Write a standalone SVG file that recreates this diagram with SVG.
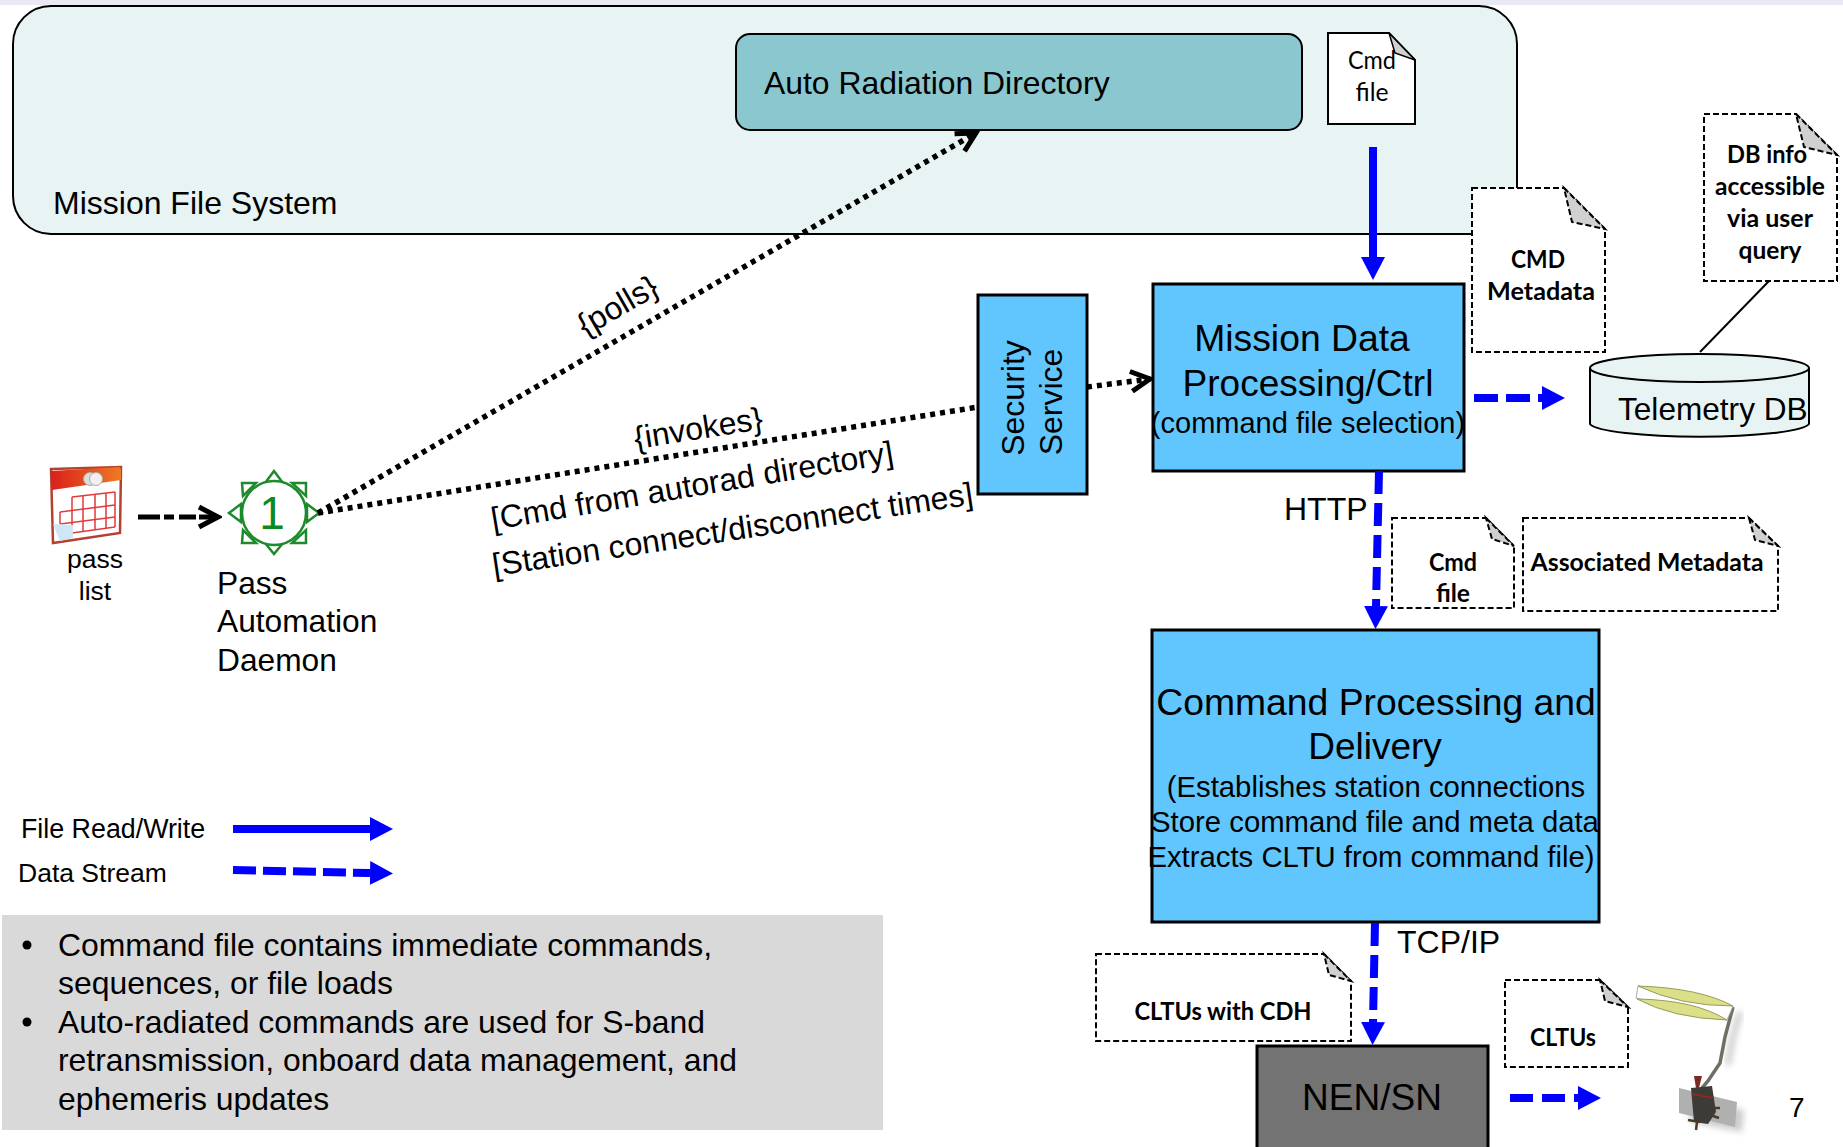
<svg xmlns="http://www.w3.org/2000/svg" width="1843" height="1147" viewBox="0 0 1843 1147">
<style>
text{font-family:"Liberation Sans",Arial,sans-serif;fill:#000}
.c{text-anchor:middle}
.n{font-family:Lato,"Carlito","Open Sans",sans-serif;font-weight:700;font-size:24px;text-anchor:middle}
.box{fill:#62c6fe;stroke:#000;stroke-width:3}
.doc{fill:#fff;stroke:#000;stroke-width:2;stroke-dasharray:6 3}
.docs{fill:#fff;stroke:#000;stroke-width:2}
.fold{fill:#d0d0d0;stroke:#000;stroke-width:2;stroke-dasharray:6 3}
.folds{fill:#d0d0d0;stroke:#000;stroke-width:1.5}
.bs{stroke:#0000ff;stroke-width:8;fill:none;marker-end:url(#bh)}
.bd{stroke:#0000ff;stroke-width:8;fill:none;stroke-dasharray:23 9;marker-end:url(#bh)}
.dot{stroke:#000;stroke-width:5.5;fill:none;stroke-dasharray:5 5}
.arr{marker-end:url(#ch)}
.sun{fill:#fff;stroke:#1d8a2c;stroke-width:2.5}
</style>
<defs>
<marker id="bh" markerUnits="userSpaceOnUse" markerWidth="24" markerHeight="26" refX="0" refY="13" orient="auto"><path d="M0,1 L23,13 L0,25 z" fill="#0000ff"/></marker>
<marker id="ch" markerUnits="userSpaceOnUse" markerWidth="26" markerHeight="30" refX="22" refY="15" orient="auto"><path d="M3,5 L22,15 L3,25" fill="none" stroke="#000" stroke-width="5"/></marker>
<linearGradient id="cal" x1="0" x2="1"><stop offset="0" stop-color="#d9201a"/><stop offset="1" stop-color="#ee7a22"/></linearGradient>
<filter id="soft" x="-20%" y="-20%" width="140%" height="140%"><feGaussianBlur stdDeviation="0.6"/></filter>
<filter id="shadow" x="-30%" y="-30%" width="160%" height="160%"><feGaussianBlur stdDeviation="3"/></filter>
</defs>
<rect x="0" y="0" width="1843" height="5" fill="#e9e9f3"/>

<g id="mission-file-system">
<rect x="13" y="6" width="1504" height="228" rx="38" fill="#e8f4f4" stroke="#000" stroke-width="2"/>
<text x="53" y="214" font-size="32">Mission File System</text>
</g>
<g id="auto-radiation-directory">
<rect x="736" y="34" width="566" height="96" rx="14" fill="#8bc7cf" stroke="#000" stroke-width="2"/>
<text x="764" y="94" font-size="31.900">Auto Radiation Directory</text>
</g>
<g id="cmd-file-top">
<path class="docs" d="M1328,33 H1389 L1415,60 V124 H1328 z"/>
<path class="folds" d="M1389,33 L1415,60 L1395,53 z"/>
<text x="1372" y="69" class="c" font-size="25" style="font-family:Lato,Carlito,sans-serif" textLength="48" lengthAdjust="spacingAndGlyphs">Cmd</text>
<text x="1372" y="101" class="c" font-size="25" style="font-family:Lato,Carlito,sans-serif" textLength="33" lengthAdjust="spacingAndGlyphs">file</text>
</g>
<g id="cmd-metadata">
<path class="doc" d="M1472,188 H1564 L1605,229 V352 H1472 z"/>
<path class="fold" d="M1564,188 L1605,229 L1572,222 z"/>
<text x="1538" y="268" class="n" textLength="54" lengthAdjust="spacingAndGlyphs">CMD</text>
<text x="1541" y="300" class="n" textLength="108" lengthAdjust="spacingAndGlyphs">Metadata</text>
</g>
<g id="db-info">
<path class="doc" d="M1704,114 H1796 L1837,155 V281 H1704 z"/>
<path class="fold" d="M1796,114 L1837,155 L1804,147 z"/>
<text x="1767" y="163" class="n" textLength="80" lengthAdjust="spacingAndGlyphs">DB info</text>
<text x="1770" y="195" class="n" textLength="110" lengthAdjust="spacingAndGlyphs">accessible</text>
<text x="1770" y="227" class="n" textLength="86" lengthAdjust="spacingAndGlyphs">via user</text>
<text x="1770" y="259" class="n" textLength="63" lengthAdjust="spacingAndGlyphs">query</text>
</g>
<g id="telemetry-db">
<path d="M1590,368 V424 A110,14 0 0 0 1809,424 V368" fill="#e8f4f4" stroke="#000" stroke-width="2"/>
<ellipse cx="1699.500" cy="368" rx="109.500" ry="14" fill="#e8f4f4" stroke="#000" stroke-width="2"/>
<text x="1618" y="420" font-size="31.600">Telemetry DB</text>
</g>
<g id="security-service">
<rect class="box" x="978" y="295" width="109" height="199"/>
<text class="c" font-size="32" transform="translate(1024,398) rotate(-90)">Security</text>
<text class="c" font-size="32" transform="translate(1062,402) rotate(-90)">Service</text>
</g>
<g id="mission-data">
<rect class="box" x="1153" y="284" width="311" height="187"/>
<text x="1302" y="351" class="c" font-size="37.300">Mission Data</text>
<text x="1308" y="396" class="c" font-size="37">Processing/Ctrl</text>
<text x="1308" y="433" class="c" font-size="29">(command file selection)</text>
</g>
<g id="cmd-file-mid">
<path class="doc" d="M1392,518 H1486 L1514,546 V608 H1392 z"/>
<path class="fold" d="M1486,518 L1514,546 L1492,539 z"/>
<text x="1453" y="571" class="n" textLength="48" lengthAdjust="spacingAndGlyphs">Cmd</text>
<text x="1453" y="602" class="n" textLength="34" lengthAdjust="spacingAndGlyphs">file</text>
</g>
<g id="associated-metadata">
<path class="doc" d="M1523,518 H1749 L1778,546 V611 H1523 z"/>
<path class="fold" d="M1749,518 L1778,546 L1755,540 z"/>
<text x="1647" y="571" class="n" textLength="233" lengthAdjust="spacingAndGlyphs">Associated Metadata</text>
</g>
<g id="command-processing">
<rect class="box" x="1152" y="630" width="447" height="292"/>
<text x="1376" y="715" class="c" font-size="37.300">Command Processing and</text>
<text x="1375" y="759" class="c" font-size="37">Delivery</text>
<text x="1376" y="797" class="c" font-size="29.300">(Establishes station connections</text>
<text x="1375" y="832" class="c" font-size="29.300">Store command file and meta data</text>
<text x="1371" y="867" class="c" font-size="29.300">Extracts CLTU from command file)</text>
</g>
<g id="cltus-with-cdh">
<path class="doc" d="M1096,954 H1324 L1351,981 V1041 H1096 z"/>
<path class="fold" d="M1324,954 L1351,981 L1329,975 z"/>
<text x="1223" y="1020" class="n" textLength="177" lengthAdjust="spacingAndGlyphs">CLTUs with CDH</text>
</g>
<g id="nen-sn">
<rect x="1257" y="1046" width="231" height="110" fill="#737373" stroke="#000" stroke-width="3"/>
<text x="1372" y="1110" class="c" font-size="37">NEN/SN</text>
</g>
<g id="cltus">
<path class="doc" d="M1505,980 H1600 L1628,1007 V1067 H1505 z"/>
<path class="fold" d="M1600,980 L1628,1007 L1605,1001 z"/>
<text x="1563" y="1046" class="n" textLength="66" lengthAdjust="spacingAndGlyphs">CLTUs</text>
</g>
<g id="satellite">
<path d="M1690,1100 L1744,1110 L1742,1132 L1690,1122 z" fill="#999" opacity="0.5" filter="url(#shadow)"/>
<path d="M1740,1012 L1732,1040 L1728,1065" fill="none" stroke="#999" stroke-width="6" opacity="0.5" filter="url(#shadow)"/>
<g filter="url(#soft)">
<path d="M1679,1088 L1737,1102 L1735,1127 L1679,1113 z" fill="#b0b0b0"/>
<path d="M1733,1007 L1725,1037 L1720,1063 L1708,1081 L1702,1088" fill="none" stroke="#6f6f62" stroke-width="3.500"/>
<path d="M1638,986 L1636,998 L1727,1020 L1733,1006 z" fill="#fff" stroke="#aaa"/>
<path d="M1638,986 Q1700,988 1733,1006 Q1680,1006 1638,986 z" fill="#dadf88" stroke="#9a9a60"/>
<path d="M1637,999 Q1695,1000 1727,1020 Q1672,1018 1637,999 z" fill="#dadf88" stroke="#9a9a60"/>
<path d="M1691,1088 L1712,1086 L1716,1112 L1708,1124 L1694,1122 z" fill="#3c3a36"/>
<path d="M1694,1076 L1702,1076 L1699,1088 L1696,1088 z" fill="#7a2a20"/>
<path d="M1692,1094 L1714,1098" stroke="#8a2a22" stroke-width="2" fill="none"/>
<path d="M1688,1120 L1700,1122 M1697,1122 L1696,1130 M1714,1108 L1720,1108 M1713,1116 L1719,1118" stroke="#4a3a28" stroke-width="2.500" fill="none"/>
</g>
</g>
<g id="calendar">
<path d="M51,469 L121,467 L120,533 L53,543 z" fill="#fff" stroke="#b5402f" stroke-width="2.500" filter="url(#soft)"/>
<path d="M51,471 L119,467 L121,469 L121,480 L52,490 z" fill="url(#cal)" filter="url(#soft)"/>
<circle cx="90" cy="479" r="6.500" fill="#ddd" stroke="#aaa"/><circle cx="96" cy="479" r="6.500" fill="#f0f0f0" stroke="#aaa"/>
<g fill="none" stroke="#e23a3e" stroke-width="1.500" filter="url(#soft)">
<path d="M72,497 L115,492 M60,512 L115,505 M60,524 L115,517 M72,533 L115,527"/>
<path d="M60,512 V524 M72,497 V533 M83,496 V532 M95,495 V530 M106,493 V528 M115,492 V527"/>
</g>
<path d="M53,524 L73,525 L73,538 L60,541 z" fill="#cfe6f5" filter="url(#soft)"/>
<text x="95" y="568" class="c" font-size="26.500">pass</text>
<text x="95" y="600" class="c" font-size="26.500">list</text>
</g>
<g id="pass-automation-daemon">
<g class="sun">
<path d="M274,471 L265,483 H283 z"/><path d="M274,554 L265,543 H283 z"/>
<path d="M229,513 L241,504 V522 z"/><path d="M319,513 L307,504 V522 z"/>
<path d="M242,483 H256 L243,496 z"/><path d="M306,483 H292 L306,496 z"/>
<path d="M242,543 H256 L243,530 z"/><path d="M306,543 H292 L306,530 z"/>
<circle cx="274" cy="513" r="32"/>
</g>
<text x="272" y="529" class="c" font-size="46" style="fill:#0b8a1f">1</text>
<text x="217" y="594" font-size="31.700">Pass</text>
<text x="217" y="632" font-size="31.700">Automation</text>
<text x="217" y="671" font-size="31.700">Daemon</text>
</g>

<g id="connectors">
<path d="M138,517 H218" stroke="#000" stroke-width="5" fill="none" stroke-dasharray="22 4 10 5 17 3" marker-end="url(#ch)"/>
<path class="dot arr" d="M318,513 L976,133"/>
<path class="dot" d="M318,513 L978,407"/>
<path class="dot arr" d="M1087,387 L1150,379"/>
<path class="bs" d="M1373,147 V257"/>
<path d="M1474,398 H1542" stroke="#0000ff" stroke-width="8" stroke-dasharray="24 8" fill="none" marker-end="url(#bh)"/>
<path class="bd" d="M1379,471 L1376,606"/>
<path class="bd" d="M1375,923 L1373,1022"/>
<path class="bd" d="M1510,1098 H1578"/>
<path d="M1769,281 L1700,352" stroke="#000" stroke-width="2" fill="none"/>
<path d="M233,829 H370" stroke="#0000ff" stroke-width="8" fill="none" marker-end="url(#bh)"/>
<path d="M233,870 L370,873" stroke="#0000ff" stroke-width="8" stroke-dasharray="23 7" fill="none" marker-end="url(#bh)"/>
</g>
<g id="connector-labels">
<text class="c" font-size="32" transform="translate(623,315) rotate(-30)">{polls}</text>
<text class="c" font-size="32" transform="translate(700,439) rotate(-9)">{invokes}</text>
<text font-size="32" transform="translate(493,530) rotate(-9.500)">[Cmd from autorad directory]</text>
<text font-size="32" transform="translate(494,576) rotate(-8.500)">[Station connect/disconnect times]</text>
<text x="1284" y="520" font-size="32">HTTP</text>
<text x="1397" y="953" font-size="32">TCP/IP</text>
</g>
<g id="legend">
<text x="21" y="838" font-size="26.800">File Read/Write</text>
<text x="18" y="882" font-size="26.500">Data Stream</text>
</g>
<g id="notes">
<rect x="2" y="915" width="881" height="215" fill="#d9d9d9"/>
<g font-size="31.900">
<circle cx="27" cy="945" r="4.500"/>
<circle cx="27" cy="1022" r="4.500"/>
<text x="58" y="956">Command file contains immediate commands,</text>
<text x="58" y="994">sequences, or file loads</text>
<text x="58" y="1033">Auto-radiated commands are used for S-band</text>
<text x="58" y="1071">retransmission, onboard data management, and</text>
<text x="58" y="1110">ephemeris updates</text>
</g>
</g>
<text x="1789" y="1117" font-size="28">7</text>
</svg>
